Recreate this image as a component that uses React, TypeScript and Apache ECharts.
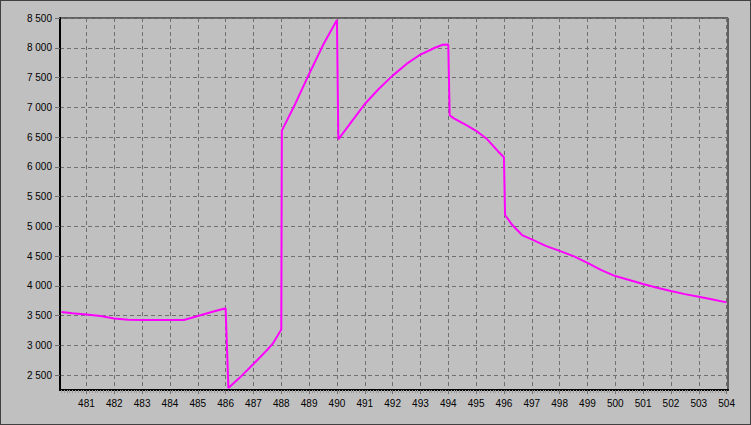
import React, { useEffect, useRef } from "react";
import * as echarts from "echarts";

// x positions (sample numbers) and measured values
const xValues = [
  480.1, 480.5, 481, 481.5, 482, 482.5, 483, 483.5, 484, 484.5, 485, 485.5, 486,
  486.1, 486.5, 487, 487.5, 487.7, 488, 488.02, 488.5, 489, 489.5, 490, 490.05,
  490.5, 491, 491.5, 492, 492.5, 493, 493.5, 493.8, 494, 494.05, 494.2, 494.65,
  495, 495.4, 495.8, 496, 496.04, 496.3, 496.65, 497, 497.5, 498, 498.5, 499,
  499.5, 500, 500.5, 501, 501.5, 502, 502.5, 503, 503.5, 504,
];
const yValues = [
  3560, 3540, 3520, 3492, 3453, 3430, 3425, 3425, 3425, 3425, 3492, 3560, 3622,
  2285, 2454, 2688, 2926, 3032, 3268, 6607, 7055, 7560, 8045, 8466, 6462,
  6743, 7055, 7308, 7532, 7728, 7886, 7996, 8050, 8055, 6866, 6813, 6700,
  6605, 6462, 6254, 6160, 5190, 5021, 4853, 4780, 4672, 4588, 4500, 4387,
  4265, 4164, 4097, 4030, 3967, 3912, 3861, 3817, 3772, 3722,
];
const xTicks = [
  481, 482, 483, 484, 485, 486, 487, 488, 489, 490, 491, 492, 493, 494, 495, 496,
  497, 498, 499, 500, 501, 502, 503, 504,
];
const yTicks = [2500, 3000, 3500, 4000, 4500, 5000, 5500, 6000, 6500, 7000, 7500, 8000, 8500];
const xRange = [480.05, 504.05];
const yRange = [2250, 8500];

const fmtThousands = (v: number) =>
  String(v).replace(/\B(?=(\d{3})+(?!\d))/g, " ");

export default function App() {
  const ref = useRef<HTMLDivElement>(null);
  useEffect(() => {
    if (!ref.current) return;
    const chart = echarts.init(ref.current, null, { renderer: "svg" });
    const data = xValues.map((x, i) => [x, yValues[i]]);
    const font = { fontFamily: "Liberation Sans, Arial, sans-serif", fontSize: 10, color: "#000" };
    chart.setOption({
      animation: false,
      backgroundColor: "#c0c0c0",
      grid: {
        left: 60,
        right: 23,
        top: 18,
        bottom: 35,
        show: true,
        borderColor: "#000",
        borderWidth: 1,
        backgroundColor: "transparent",
      },
      xAxis: {
        type: "value",
        min: xRange[0],
        max: xRange[1],
        splitNumber: 18,
        axisLine: { show: true, onZero: false, lineStyle: { color: "#000", width: 2 } },
        axisTick: { show: true, length: 4, customValues: xTicks, lineStyle: { color: "#707070" } },
        minorTick: { show: true, splitNumber: 10, length: 3, lineStyle: { color: "#9a9a9a" } },
        axisLabel: {
          ...font,
          margin: 8,
          customValues: xTicks,
          formatter: (v: number) => String(Math.round(v)),
        },
        splitLine: { show: true, lineStyle: { color: "#707070", type: [4, 3], width: 1 } },
      },
      yAxis: {
        type: "value",
        min: yRange[0],
        max: yRange[1],
        axisLine: { show: true, onZero: false, lineStyle: { color: "#000", width: 2 } },
        axisTick: { show: true, length: 5, customValues: yTicks, lineStyle: { color: "#707070" } },
        axisLabel: {
          ...font,
          margin: 8,
          customValues: yTicks,
          formatter: (v: number) => fmtThousands(v),
        },
        splitLine: { show: true, lineStyle: { color: "#707070", type: [4, 3], width: 1 } },
      },
      series: [
        {
          type: "line",
          data,
          showSymbol: false,
          symbol: "none",
          clip: true,
          lineStyle: { color: "#ff00ff", width: 2 },
        },
      ],
    });
    return () => chart.dispose();
  }, []);
  return (
    <div style={{ position: "fixed", left: 0, top: 0, width: 751, height: 425, background: "#c0c0c0" }}>
      <div ref={ref} style={{ width: 751, height: 425 }} />
      <div
        style={{
          position: "absolute",
          left: 0,
          top: 0,
          width: 751,
          height: 425,
          boxSizing: "border-box",
          border: "1px solid #404040",
          pointerEvents: "none",
        }}
      />
    </div>
  );
}
